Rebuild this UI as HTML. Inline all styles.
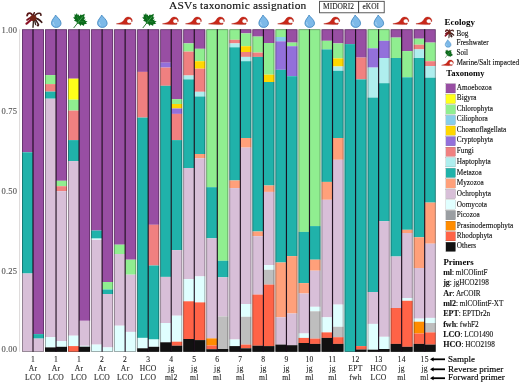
<!DOCTYPE html>
<html><head><meta charset="utf-8"><style>
html,body{margin:0;padding:0;background:#fff;}
body{width:520px;height:383px;overflow:hidden;}
svg{display:block;will-change:transform;}
text{font-family:"Liberation Serif",serif;}
</style></head><body>
<svg width="520" height="383" viewBox="0 0 520 383">
<rect width="520" height="383" fill="#fff"/>
<text x="169" y="9" font-size="11.4px" letter-spacing="0.2" fill="#111" stroke="#111" stroke-width="0.15">ASVs taxonomic assignation</text>
<rect x="319.6" y="1.3" width="64.6" height="11.5" fill="#fff" stroke="#333" stroke-width="0.8"/>
<line x1="358.6" y1="1.3" x2="358.6" y2="12.8" stroke="#222" stroke-width="0.9"/>
<text x="338.5" y="9.2" font-size="7.4px" fill="#222" stroke="#222" stroke-width="0.1" text-anchor="middle">MIDORI2</text>
<text x="370.8" y="9.2" font-size="7.4px" fill="#222" stroke="#222" stroke-width="0.1" text-anchor="middle">eKOI</text>
<rect x="22" y="29.3" width="11" height="123" fill="#984EA3"/>
<rect x="22" y="152.3" width="11" height="121.2" fill="#20B2AA"/>
<rect x="22" y="273.5" width="11" height="78.3" fill="#D8BFD8"/>
<rect x="33" y="29.3" width="11" height="304.8" fill="#984EA3"/>
<rect x="33" y="334.1" width="11" height="4.5" fill="#20B2AA"/>
<rect x="33" y="338.6" width="11" height="13.2" fill="#D8BFD8"/>
<rect x="45.04" y="29.3" width="11" height="45.8" fill="#984EA3"/>
<rect x="45.04" y="75.1" width="11" height="9" fill="#90EE90"/>
<rect x="45.04" y="84.1" width="11" height="7.5" fill="#F08080"/>
<rect x="45.04" y="91.6" width="11" height="7.1" fill="#20B2AA"/>
<rect x="45.04" y="98.7" width="11" height="238.5" fill="#D8BFD8"/>
<rect x="45.04" y="337.2" width="11" height="10.2" fill="#E0FFFF"/>
<rect x="45.04" y="347.4" width="11" height="4.4" fill="#111111"/>
<rect x="56.04" y="29.3" width="11" height="151.5" fill="#984EA3"/>
<rect x="56.04" y="180.8" width="11" height="5.4" fill="#90EE90"/>
<rect x="56.04" y="186.2" width="11" height="5" fill="#F08080"/>
<rect x="56.04" y="191.2" width="11" height="150" fill="#D8BFD8"/>
<rect x="56.04" y="341.2" width="11" height="5.6" fill="#E0FFFF"/>
<rect x="56.04" y="346.8" width="11" height="5" fill="#111111"/>
<rect x="68.08" y="29.3" width="11" height="49.4" fill="#984EA3"/>
<rect x="68.08" y="78.7" width="11" height="21" fill="#FFFF1A"/>
<rect x="68.08" y="99.7" width="11" height="10.9" fill="#90EE90"/>
<rect x="68.08" y="110.6" width="11" height="29.5" fill="#F08080"/>
<rect x="68.08" y="140.1" width="11" height="21" fill="#20B2AA"/>
<rect x="68.08" y="161.1" width="11" height="174.6" fill="#D8BFD8"/>
<rect x="68.08" y="335.7" width="11" height="10.4" fill="#E0FFFF"/>
<rect x="68.08" y="346.1" width="11" height="5.7" fill="#FF6347"/>
<rect x="79.08" y="29.3" width="11" height="291.5" fill="#984EA3"/>
<rect x="79.08" y="320.8" width="11" height="25" fill="#D8BFD8"/>
<rect x="79.08" y="345.8" width="11" height="0.9" fill="#E0FFFF"/>
<rect x="79.08" y="346.7" width="11" height="5.1" fill="#111111"/>
<rect x="91.12" y="29.3" width="11" height="201.3" fill="#984EA3"/>
<rect x="91.12" y="230.6" width="11" height="8" fill="#20B2AA"/>
<rect x="91.12" y="238.6" width="11" height="1.2" fill="#E0FFFF"/>
<rect x="91.12" y="239.8" width="11" height="104.8" fill="#D8BFD8"/>
<rect x="91.12" y="344.6" width="11" height="7.2" fill="#E0FFFF"/>
<rect x="102.12" y="29.3" width="11" height="252.7" fill="#984EA3"/>
<rect x="102.12" y="282" width="11" height="7.5" fill="#90EE90"/>
<rect x="102.12" y="289.5" width="11" height="4.5" fill="#20B2AA"/>
<rect x="102.12" y="294" width="11" height="53.4" fill="#D8BFD8"/>
<rect x="102.12" y="347.4" width="11" height="4.4" fill="#E0FFFF"/>
<rect x="114.16" y="29.3" width="11" height="215.4" fill="#984EA3"/>
<rect x="114.16" y="244.7" width="11" height="9.3" fill="#90EE90"/>
<rect x="114.16" y="254" width="11" height="71.7" fill="#D8BFD8"/>
<rect x="114.16" y="325.7" width="11" height="26.1" fill="#E0FFFF"/>
<rect x="125.16" y="29.3" width="11" height="230.4" fill="#984EA3"/>
<rect x="125.16" y="259.7" width="11" height="15" fill="#90EE90"/>
<rect x="125.16" y="274.7" width="11" height="57.2" fill="#D8BFD8"/>
<rect x="125.16" y="331.9" width="11" height="19.9" fill="#E0FFFF"/>
<rect x="137.2" y="29.3" width="11" height="42.6" fill="#984EA3"/>
<rect x="137.2" y="71.9" width="11" height="45.7" fill="#F08080"/>
<rect x="137.2" y="117.6" width="11" height="220.3" fill="#20B2AA"/>
<rect x="137.2" y="337.9" width="11" height="10.4" fill="#E0FFFF"/>
<rect x="137.2" y="348.3" width="11" height="3.5" fill="#111111"/>
<rect x="148.2" y="29.3" width="11" height="195.5" fill="#984EA3"/>
<rect x="148.2" y="224.8" width="11" height="40.7" fill="#F08080"/>
<rect x="148.2" y="265.5" width="11" height="74" fill="#20B2AA"/>
<rect x="148.2" y="339.5" width="11" height="7.3" fill="#E0FFFF"/>
<rect x="148.2" y="346.8" width="11" height="5" fill="#111111"/>
<rect x="160.24" y="29.3" width="11" height="33.4" fill="#984EA3"/>
<rect x="160.24" y="62.7" width="11" height="4.9" fill="#9370DB"/>
<rect x="160.24" y="67.6" width="11" height="18.2" fill="#F08080"/>
<rect x="160.24" y="85.8" width="11" height="191.1" fill="#20B2AA"/>
<rect x="160.24" y="276.9" width="11" height="46.1" fill="#D8BFD8"/>
<rect x="160.24" y="323" width="11" height="19.3" fill="#E0FFFF"/>
<rect x="160.24" y="342.3" width="11" height="9.5" fill="#111111"/>
<rect x="171.24" y="29.3" width="11" height="69.8" fill="#984EA3"/>
<rect x="171.24" y="99.1" width="11" height="4.9" fill="#90EE90"/>
<rect x="171.24" y="104" width="11" height="4.5" fill="#FFD700"/>
<rect x="171.24" y="108.5" width="11" height="5.4" fill="#9370DB"/>
<rect x="171.24" y="113.9" width="11" height="26.2" fill="#F08080"/>
<rect x="171.24" y="140.1" width="11" height="110" fill="#20B2AA"/>
<rect x="171.24" y="250.1" width="11" height="65.6" fill="#D8BFD8"/>
<rect x="171.24" y="315.7" width="11" height="26" fill="#E0FFFF"/>
<rect x="171.24" y="341.7" width="11" height="4" fill="#FF6347"/>
<rect x="171.24" y="345.7" width="11" height="6.1" fill="#111111"/>
<rect x="183.28" y="29.3" width="11" height="14.1" fill="#984EA3"/>
<rect x="183.28" y="43.4" width="11" height="8.2" fill="#90EE90"/>
<rect x="183.28" y="51.6" width="11" height="23.9" fill="#F08080"/>
<rect x="183.28" y="75.5" width="11" height="3.9" fill="#AFEEEE"/>
<rect x="183.28" y="79.4" width="11" height="88.6" fill="#20B2AA"/>
<rect x="183.28" y="168" width="11" height="111.1" fill="#D8BFD8"/>
<rect x="183.28" y="279.1" width="11" height="22.2" fill="#E0FFFF"/>
<rect x="183.28" y="301.3" width="11" height="37.7" fill="#FF6347"/>
<rect x="183.28" y="339" width="11" height="12.8" fill="#111111"/>
<rect x="194.28" y="29.3" width="11" height="19.5" fill="#984EA3"/>
<rect x="194.28" y="48.8" width="11" height="12.4" fill="#90EE90"/>
<rect x="194.28" y="61.2" width="11" height="7.5" fill="#FFD700"/>
<rect x="194.28" y="68.7" width="11" height="23.1" fill="#F08080"/>
<rect x="194.28" y="91.8" width="11" height="4.7" fill="#AFEEEE"/>
<rect x="194.28" y="96.5" width="11" height="57.5" fill="#20B2AA"/>
<rect x="194.28" y="154" width="11" height="4.3" fill="#FFA07A"/>
<rect x="194.28" y="158.3" width="11" height="118.1" fill="#D8BFD8"/>
<rect x="194.28" y="276.4" width="11" height="26" fill="#E0FFFF"/>
<rect x="194.28" y="302.4" width="11" height="37.7" fill="#FF6347"/>
<rect x="194.28" y="340.1" width="11" height="11.7" fill="#111111"/>
<rect x="206.32" y="29.3" width="11" height="157.9" fill="#90EE90"/>
<rect x="206.32" y="187.2" width="11" height="51.1" fill="#20B2AA"/>
<rect x="206.32" y="238.3" width="11" height="100.1" fill="#D8BFD8"/>
<rect x="206.32" y="338.4" width="11" height="7.1" fill="#FF8C00"/>
<rect x="206.32" y="345.5" width="11" height="3.7" fill="#FF6347"/>
<rect x="206.32" y="349.2" width="11" height="2.6" fill="#111111"/>
<rect x="217.32" y="29.3" width="11" height="231.5" fill="#90EE90"/>
<rect x="217.32" y="260.8" width="11" height="16.5" fill="#20B2AA"/>
<rect x="217.32" y="277.3" width="11" height="39.1" fill="#D8BFD8"/>
<rect x="217.32" y="316.4" width="11" height="32.6" fill="#BEBEBE"/>
<rect x="217.32" y="349" width="11" height="2.8" fill="#111111"/>
<rect x="229.36" y="29.3" width="11" height="10.5" fill="#90EE90"/>
<rect x="229.36" y="39.8" width="11" height="3.6" fill="#F08080"/>
<rect x="229.36" y="43.4" width="11" height="3.9" fill="#AFEEEE"/>
<rect x="229.36" y="47.3" width="11" height="133.2" fill="#20B2AA"/>
<rect x="229.36" y="180.5" width="11" height="7.6" fill="#FFA07A"/>
<rect x="229.36" y="188.1" width="11" height="151.4" fill="#D8BFD8"/>
<rect x="229.36" y="339.5" width="11" height="6.6" fill="#E0FFFF"/>
<rect x="229.36" y="346.1" width="11" height="5.7" fill="#111111"/>
<rect x="240.36" y="29.3" width="11" height="4.1" fill="#984EA3"/>
<rect x="240.36" y="33.4" width="11" height="12.8" fill="#90EE90"/>
<rect x="240.36" y="46.2" width="11" height="5.8" fill="#FFD700"/>
<rect x="240.36" y="52" width="11" height="4.9" fill="#F08080"/>
<rect x="240.36" y="56.9" width="11" height="4.3" fill="#AFEEEE"/>
<rect x="240.36" y="61.2" width="11" height="76.8" fill="#20B2AA"/>
<rect x="240.36" y="138" width="11" height="9.6" fill="#FFA07A"/>
<rect x="240.36" y="147.6" width="11" height="156.4" fill="#D8BFD8"/>
<rect x="240.36" y="304" width="11" height="12.8" fill="#E0FFFF"/>
<rect x="240.36" y="316.8" width="11" height="27.8" fill="#BEBEBE"/>
<rect x="240.36" y="344.6" width="11" height="3.7" fill="#FF6347"/>
<rect x="240.36" y="348.3" width="11" height="3.5" fill="#111111"/>
<rect x="252.4" y="29.3" width="11" height="7.3" fill="#984EA3"/>
<rect x="252.4" y="36.6" width="11" height="16" fill="#90EE90"/>
<rect x="252.4" y="52.6" width="11" height="4.3" fill="#F08080"/>
<rect x="252.4" y="56.9" width="11" height="174.6" fill="#20B2AA"/>
<rect x="252.4" y="231.5" width="11" height="4.7" fill="#FFA07A"/>
<rect x="252.4" y="236.2" width="11" height="58.4" fill="#D8BFD8"/>
<rect x="252.4" y="294.6" width="11" height="51.1" fill="#FF6347"/>
<rect x="252.4" y="345.7" width="11" height="6.1" fill="#111111"/>
<rect x="263.4" y="29.3" width="11" height="13.7" fill="#984EA3"/>
<rect x="263.4" y="43" width="11" height="31.7" fill="#90EE90"/>
<rect x="263.4" y="74.7" width="11" height="7.3" fill="#FFD700"/>
<rect x="263.4" y="82" width="11" height="103.5" fill="#20B2AA"/>
<rect x="263.4" y="185.5" width="11" height="6.4" fill="#FFA07A"/>
<rect x="263.4" y="191.9" width="11" height="73.2" fill="#D8BFD8"/>
<rect x="263.4" y="265.1" width="11" height="4.7" fill="#E0FFFF"/>
<rect x="263.4" y="269.8" width="11" height="14.8" fill="#BEBEBE"/>
<rect x="263.4" y="284.6" width="11" height="61.5" fill="#FF6347"/>
<rect x="263.4" y="346.1" width="11" height="5.7" fill="#111111"/>
<rect x="275.44" y="29.3" width="11" height="7.7" fill="#90EE90"/>
<rect x="275.44" y="37" width="11" height="4.3" fill="#87CEEB"/>
<rect x="275.44" y="41.3" width="11" height="28.5" fill="#9370DB"/>
<rect x="275.44" y="69.8" width="11" height="192.7" fill="#20B2AA"/>
<rect x="275.44" y="262.5" width="11" height="54.8" fill="#FFA07A"/>
<rect x="275.44" y="317.3" width="11" height="27.3" fill="#D8BFD8"/>
<rect x="275.44" y="344.6" width="11" height="7.2" fill="#111111"/>
<rect x="286.44" y="29.3" width="11" height="13.3" fill="#984EA3"/>
<rect x="286.44" y="42.6" width="11" height="3.6" fill="#90EE90"/>
<rect x="286.44" y="46.2" width="11" height="30" fill="#9370DB"/>
<rect x="286.44" y="76.2" width="11" height="179.9" fill="#20B2AA"/>
<rect x="286.44" y="256.1" width="11" height="57.4" fill="#FFA07A"/>
<rect x="286.44" y="313.5" width="11" height="31.7" fill="#D8BFD8"/>
<rect x="286.44" y="345.2" width="11" height="6.6" fill="#111111"/>
<rect x="298.48" y="29.3" width="11" height="202.6" fill="#90EE90"/>
<rect x="298.48" y="231.9" width="11" height="51.2" fill="#20B2AA"/>
<rect x="298.48" y="283.1" width="11" height="10.4" fill="#FFA07A"/>
<rect x="298.48" y="293.5" width="11" height="40" fill="#D8BFD8"/>
<rect x="298.48" y="333.5" width="11" height="4.4" fill="#E0FFFF"/>
<rect x="298.48" y="337.9" width="11" height="5.1" fill="#FF6347"/>
<rect x="298.48" y="343" width="11" height="8.8" fill="#111111"/>
<rect x="309.48" y="29.3" width="11" height="196.8" fill="#90EE90"/>
<rect x="309.48" y="226.1" width="11" height="33.6" fill="#20B2AA"/>
<rect x="309.48" y="259.7" width="11" height="11" fill="#FFA07A"/>
<rect x="309.48" y="270.7" width="11" height="36.1" fill="#D8BFD8"/>
<rect x="309.48" y="306.8" width="11" height="4.5" fill="#E0FFFF"/>
<rect x="309.48" y="311.3" width="11" height="27.3" fill="#BEBEBE"/>
<rect x="309.48" y="338.6" width="11" height="5.3" fill="#FF6347"/>
<rect x="309.48" y="343.9" width="11" height="7.9" fill="#111111"/>
<rect x="321.52" y="29.3" width="11" height="11.5" fill="#984EA3"/>
<rect x="321.52" y="40.8" width="11" height="8.6" fill="#90EE90"/>
<rect x="321.52" y="49.4" width="11" height="132.5" fill="#20B2AA"/>
<rect x="321.52" y="181.9" width="11" height="17.9" fill="#FFA07A"/>
<rect x="321.52" y="199.8" width="11" height="117.5" fill="#D8BFD8"/>
<rect x="321.52" y="317.3" width="11" height="15.1" fill="#E0FFFF"/>
<rect x="321.52" y="332.4" width="11" height="5.5" fill="#FF6347"/>
<rect x="321.52" y="337.9" width="11" height="13.9" fill="#111111"/>
<rect x="332.52" y="29.3" width="11" height="14.1" fill="#984EA3"/>
<rect x="332.52" y="43.4" width="11" height="15" fill="#90EE90"/>
<rect x="332.52" y="58.4" width="11" height="8.1" fill="#FFD700"/>
<rect x="332.52" y="66.5" width="11" height="4.3" fill="#AFEEEE"/>
<rect x="332.52" y="70.8" width="11" height="67.2" fill="#20B2AA"/>
<rect x="332.52" y="138" width="11" height="21.8" fill="#FFA07A"/>
<rect x="332.52" y="159.8" width="11" height="144.8" fill="#D8BFD8"/>
<rect x="332.52" y="304.6" width="11" height="22.2" fill="#E0FFFF"/>
<rect x="332.52" y="326.8" width="11" height="10.4" fill="#BEBEBE"/>
<rect x="332.52" y="337.2" width="11" height="6.7" fill="#FF6347"/>
<rect x="332.52" y="343.9" width="11" height="7.9" fill="#111111"/>
<rect x="344.56" y="29.3" width="11" height="14.8" fill="#984EA3"/>
<rect x="344.56" y="44.1" width="11" height="307.7" fill="#20B2AA"/>
<rect x="355.56" y="29.3" width="11" height="28.3" fill="#984EA3"/>
<rect x="355.56" y="57.6" width="11" height="21.8" fill="#F08080"/>
<rect x="355.56" y="79.4" width="11" height="266.7" fill="#20B2AA"/>
<rect x="355.56" y="346.1" width="11" height="3.4" fill="#FF6347"/>
<rect x="355.56" y="349.5" width="11" height="2.3" fill="#111111"/>
<rect x="367.6" y="29.3" width="11" height="19" fill="#90EE90"/>
<rect x="367.6" y="48.3" width="11" height="19.3" fill="#9370DB"/>
<rect x="367.6" y="67.6" width="11" height="30" fill="#AFEEEE"/>
<rect x="367.6" y="97.6" width="11" height="194.4" fill="#20B2AA"/>
<rect x="367.6" y="292" width="11" height="31.9" fill="#D8BFD8"/>
<rect x="367.6" y="323.9" width="11" height="25.8" fill="#E0FFFF"/>
<rect x="367.6" y="349.7" width="11" height="2.1" fill="#111111"/>
<rect x="378.6" y="29.3" width="11" height="11.5" fill="#90EE90"/>
<rect x="378.6" y="40.8" width="11" height="17.2" fill="#9370DB"/>
<rect x="378.6" y="58" width="11" height="25.2" fill="#AFEEEE"/>
<rect x="378.6" y="83.2" width="11" height="138" fill="#20B2AA"/>
<rect x="378.6" y="221.2" width="11" height="115.6" fill="#D8BFD8"/>
<rect x="378.6" y="336.8" width="11" height="12.2" fill="#E0FFFF"/>
<rect x="378.6" y="349" width="11" height="2.8" fill="#111111"/>
<rect x="390.64" y="29.3" width="11" height="8.3" fill="#984EA3"/>
<rect x="390.64" y="37.6" width="11" height="20.4" fill="#90EE90"/>
<rect x="390.64" y="58" width="11" height="198.5" fill="#20B2AA"/>
<rect x="390.64" y="256.5" width="11" height="51.5" fill="#D8BFD8"/>
<rect x="390.64" y="308" width="11" height="35.9" fill="#FF6347"/>
<rect x="390.64" y="343.9" width="11" height="7.9" fill="#111111"/>
<rect x="401.64" y="29.3" width="11" height="21.8" fill="#984EA3"/>
<rect x="401.64" y="51.1" width="11" height="26.2" fill="#90EE90"/>
<rect x="401.64" y="77.3" width="11" height="152.5" fill="#20B2AA"/>
<rect x="401.64" y="229.8" width="11" height="3.2" fill="#FFA07A"/>
<rect x="401.64" y="233" width="11" height="65" fill="#D8BFD8"/>
<rect x="401.64" y="298" width="11" height="2.8" fill="#E0FFFF"/>
<rect x="401.64" y="300.8" width="11" height="46" fill="#FF6347"/>
<rect x="401.64" y="346.8" width="11" height="5" fill="#111111"/>
<rect x="413.68" y="29.3" width="11" height="9.4" fill="#984EA3"/>
<rect x="413.68" y="38.7" width="11" height="6" fill="#90EE90"/>
<rect x="413.68" y="44.7" width="11" height="4.7" fill="#F08080"/>
<rect x="413.68" y="49.4" width="11" height="8.6" fill="#AFEEEE"/>
<rect x="413.68" y="58" width="11" height="179.3" fill="#20B2AA"/>
<rect x="413.68" y="237.3" width="11" height="30.7" fill="#FFA07A"/>
<rect x="413.68" y="268" width="11" height="50.6" fill="#D8BFD8"/>
<rect x="413.68" y="318.6" width="11" height="3.1" fill="#E0FFFF"/>
<rect x="413.68" y="321.7" width="11" height="11.8" fill="#FF8C00"/>
<rect x="413.68" y="333.5" width="11" height="10.4" fill="#FF6347"/>
<rect x="413.68" y="343.9" width="11" height="7.9" fill="#111111"/>
<rect x="424.68" y="29.3" width="11" height="13.3" fill="#984EA3"/>
<rect x="424.68" y="42.6" width="11" height="18.6" fill="#90EE90"/>
<rect x="424.68" y="61.2" width="11" height="4.9" fill="#F08080"/>
<rect x="424.68" y="66.1" width="11" height="11.6" fill="#AFEEEE"/>
<rect x="424.68" y="77.7" width="11" height="124.9" fill="#20B2AA"/>
<rect x="424.68" y="202.6" width="11" height="41.1" fill="#FFA07A"/>
<rect x="424.68" y="243.7" width="11" height="74.2" fill="#D8BFD8"/>
<rect x="424.68" y="317.9" width="11" height="5.1" fill="#E0FFFF"/>
<rect x="424.68" y="323" width="11" height="9.4" fill="#BEBEBE"/>
<rect x="424.68" y="332.4" width="11" height="12.2" fill="#FF6347"/>
<rect x="424.68" y="344.6" width="11" height="7.2" fill="#111111"/>
<rect x="22.4" y="29.7" width="21.2" height="321.7" fill="none" stroke="#000" stroke-opacity="0.4" stroke-width="0.8"/>
<line x1="33" y1="29.3" x2="33" y2="351.8" stroke="#140414" stroke-opacity="0.92" stroke-width="1.15"/>
<rect x="45.44" y="29.7" width="21.2" height="321.7" fill="none" stroke="#000" stroke-opacity="0.4" stroke-width="0.8"/>
<line x1="56.04" y1="29.3" x2="56.04" y2="351.8" stroke="#140414" stroke-opacity="0.92" stroke-width="1.15"/>
<rect x="68.48" y="29.7" width="21.2" height="321.7" fill="none" stroke="#000" stroke-opacity="0.4" stroke-width="0.8"/>
<line x1="79.08" y1="29.3" x2="79.08" y2="351.8" stroke="#140414" stroke-opacity="0.92" stroke-width="1.15"/>
<rect x="91.52" y="29.7" width="21.2" height="321.7" fill="none" stroke="#000" stroke-opacity="0.4" stroke-width="0.8"/>
<line x1="102.12" y1="29.3" x2="102.12" y2="351.8" stroke="#140414" stroke-opacity="0.92" stroke-width="1.15"/>
<rect x="114.56" y="29.7" width="21.2" height="321.7" fill="none" stroke="#000" stroke-opacity="0.4" stroke-width="0.8"/>
<line x1="125.16" y1="29.3" x2="125.16" y2="351.8" stroke="#140414" stroke-opacity="0.92" stroke-width="1.15"/>
<rect x="137.6" y="29.7" width="21.2" height="321.7" fill="none" stroke="#000" stroke-opacity="0.4" stroke-width="0.8"/>
<line x1="148.2" y1="29.3" x2="148.2" y2="351.8" stroke="#140414" stroke-opacity="0.92" stroke-width="1.15"/>
<rect x="160.64" y="29.7" width="21.2" height="321.7" fill="none" stroke="#000" stroke-opacity="0.4" stroke-width="0.8"/>
<line x1="171.24" y1="29.3" x2="171.24" y2="351.8" stroke="#140414" stroke-opacity="0.92" stroke-width="1.15"/>
<rect x="183.68" y="29.7" width="21.2" height="321.7" fill="none" stroke="#000" stroke-opacity="0.4" stroke-width="0.8"/>
<line x1="194.28" y1="29.3" x2="194.28" y2="351.8" stroke="#140414" stroke-opacity="0.92" stroke-width="1.15"/>
<rect x="206.72" y="29.7" width="21.2" height="321.7" fill="none" stroke="#000" stroke-opacity="0.4" stroke-width="0.8"/>
<line x1="217.32" y1="29.3" x2="217.32" y2="351.8" stroke="#140414" stroke-opacity="0.92" stroke-width="1.15"/>
<rect x="229.76" y="29.7" width="21.2" height="321.7" fill="none" stroke="#000" stroke-opacity="0.4" stroke-width="0.8"/>
<line x1="240.36" y1="29.3" x2="240.36" y2="351.8" stroke="#140414" stroke-opacity="0.92" stroke-width="1.15"/>
<rect x="252.8" y="29.7" width="21.2" height="321.7" fill="none" stroke="#000" stroke-opacity="0.4" stroke-width="0.8"/>
<line x1="263.4" y1="29.3" x2="263.4" y2="351.8" stroke="#140414" stroke-opacity="0.92" stroke-width="1.15"/>
<rect x="275.84" y="29.7" width="21.2" height="321.7" fill="none" stroke="#000" stroke-opacity="0.4" stroke-width="0.8"/>
<line x1="286.44" y1="29.3" x2="286.44" y2="351.8" stroke="#140414" stroke-opacity="0.92" stroke-width="1.15"/>
<rect x="298.88" y="29.7" width="21.2" height="321.7" fill="none" stroke="#000" stroke-opacity="0.4" stroke-width="0.8"/>
<line x1="309.48" y1="29.3" x2="309.48" y2="351.8" stroke="#140414" stroke-opacity="0.92" stroke-width="1.15"/>
<rect x="321.92" y="29.7" width="21.2" height="321.7" fill="none" stroke="#000" stroke-opacity="0.4" stroke-width="0.8"/>
<line x1="332.52" y1="29.3" x2="332.52" y2="351.8" stroke="#140414" stroke-opacity="0.92" stroke-width="1.15"/>
<rect x="344.96" y="29.7" width="21.2" height="321.7" fill="none" stroke="#000" stroke-opacity="0.4" stroke-width="0.8"/>
<line x1="355.56" y1="29.3" x2="355.56" y2="351.8" stroke="#140414" stroke-opacity="0.92" stroke-width="1.15"/>
<rect x="368" y="29.7" width="21.2" height="321.7" fill="none" stroke="#000" stroke-opacity="0.4" stroke-width="0.8"/>
<line x1="378.6" y1="29.3" x2="378.6" y2="351.8" stroke="#140414" stroke-opacity="0.92" stroke-width="1.15"/>
<rect x="391.04" y="29.7" width="21.2" height="321.7" fill="none" stroke="#000" stroke-opacity="0.4" stroke-width="0.8"/>
<line x1="401.64" y1="29.3" x2="401.64" y2="351.8" stroke="#140414" stroke-opacity="0.92" stroke-width="1.15"/>
<rect x="414.08" y="29.7" width="21.2" height="321.7" fill="none" stroke="#000" stroke-opacity="0.4" stroke-width="0.8"/>
<line x1="424.68" y1="29.3" x2="424.68" y2="351.8" stroke="#140414" stroke-opacity="0.92" stroke-width="1.15"/>
<g transform="translate(33.5,17.9) scale(1)" fill="none" stroke-linecap="round"><path d="M0,0 C-0.8,-2.5 -2.2,-4.8 -4,-4.8 C-5.4,-4.8 -6.2,-3.6 -6.4,-2.2" stroke="#5A1616" stroke-width="1.8"/><path d="M0,0 C1.5,-3 3.8,-4.8 6,-4.6 C7.1,-4.4 7.6,-3.6 7.4,-2.6" stroke="#4A1E1A" stroke-width="1.6"/><path d="M0,0 C3,0.2 6,1.6 8.2,4.4" stroke="#3E1A18" stroke-width="1.7"/><path d="M0,0 C2.4,2 3.9,4 5,6.6 C5.2,7.6 4.4,8 3.9,7.5" stroke="#3E1A18" stroke-width="1.5"/><path d="M0,0 C0,3 -0.2,6 -0.5,9.4" stroke="#3A2822" stroke-width="1.4"/><path d="M0,0 C-2.5,1.5 -4.8,4 -7,5.8" stroke="#8A1024" stroke-width="2.2"/><path d="M0,0 C-2,-0.4 -4.3,0.2 -6.4,2" stroke="#761420" stroke-width="1.9"/><path d="M0,0 C-0.4,-2 -0.2,-3.8 0.8,-5.2" stroke="#4E1A18" stroke-width="1.5"/><path d="M0,0 C1.2,2.2 1.8,4.5 2.1,6.6" stroke="#34221E" stroke-width="1.3"/><ellipse cx="-0.3" cy="0.2" rx="3.3" ry="2.8" fill="#742416" stroke="none"/></g>
<g transform="translate(56.24,21.1) scale(0.93)"><path d="M-0.7,-6.5 C0.5,-4.5 5.2,-1.2 5.2,2.2 C5.2,5 2.9,6.8 0,6.8 C-2.9,6.8 -5.1,5 -5.1,2.2 C-5.1,-1.4 -1.4,-4.2 -0.7,-6.5 Z" fill="#7DB9E8" stroke="#3F86BF" stroke-width="0.9"/><path d="M-3.2,1 C-3.4,2.6 -2.6,4 -1.5,4.6" fill="none" stroke="#B8DCF5" stroke-width="0.8"/></g>
<g transform="translate(80.08,19.8) scale(1) rotate(38)"><path d="M0,3 L0,10.4" stroke="#2A7A32" stroke-width="0.9" fill="none"/><ellipse cx="0" cy="0" rx="3.4" ry="3.2" fill="#0A6A1A"/><path d="M0,5 L1.5,3.8 L4.2,4.6 L3.9,2.9 L7,2.5 L6,1.3 L8,-1.4 L6.3,-1.2 L6.8,-3.4 L4.6,-2.2 L4.3,-3.6 L2.9,-1.9 L2.8,-5 L1.6,-4.4 L0,-7.6 L-1.6,-4.4 L-2.8,-5 L-2.9,-1.9 L-4.3,-3.6 L-4.6,-2.2 L-6.8,-3.4 L-6.3,-1.2 L-8,-1.4 L-6,1.3 L-7,2.5 L-3.9,2.9 L-4.2,4.6 L-1.5,3.8 Z" fill="#0A6A1A"/><path d="M0,4.5 L0.2,-4.5" stroke="#6CC878" stroke-width="0.55" fill="none"/><path d="M0,1.5 L4.5,-0.8 M0,1.5 L-4.5,-0.8" stroke="#3C9A48" stroke-width="0.4" fill="none"/></g>
<g transform="translate(102.32,21.1) scale(0.93)"><path d="M-0.7,-6.5 C0.5,-4.5 5.2,-1.2 5.2,2.2 C5.2,5 2.9,6.8 0,6.8 C-2.9,6.8 -5.1,5 -5.1,2.2 C-5.1,-1.4 -1.4,-4.2 -0.7,-6.5 Z" fill="#7DB9E8" stroke="#3F86BF" stroke-width="0.9"/><path d="M-3.2,1 C-3.4,2.6 -2.6,4 -1.5,4.6" fill="none" stroke="#B8DCF5" stroke-width="0.8"/></g>
<g transform="translate(125.26,21) scale(1)"><path d="M-8.8,2.7 C-6,2.4 -3.5,1.6 -1.8,-0.2 C-0.6,-2 0.2,-3.6 2.2,-3.9 C4,-4.2 5.8,-3.6 6.7,-1.8 C7.3,-0.6 7.1,0.6 6.4,1.0 C6.6,-0.2 6.0,-1.4 5.0,-1.8 C3.6,-2.3 1.8,-1.4 1.7,0.1 C1.6,1.5 2.6,2.2 3.8,2.2 L5.9,1.9 L5.2,3.4 C1,3.8 -4,3.6 -8.8,3.1 Z" fill="#C8281A" stroke="#A41A12" stroke-width="0.3"/></g>
<g transform="translate(149.2,19.8) scale(1) rotate(38)"><path d="M0,3 L0,10.4" stroke="#2A7A32" stroke-width="0.9" fill="none"/><ellipse cx="0" cy="0" rx="3.4" ry="3.2" fill="#0A6A1A"/><path d="M0,5 L1.5,3.8 L4.2,4.6 L3.9,2.9 L7,2.5 L6,1.3 L8,-1.4 L6.3,-1.2 L6.8,-3.4 L4.6,-2.2 L4.3,-3.6 L2.9,-1.9 L2.8,-5 L1.6,-4.4 L0,-7.6 L-1.6,-4.4 L-2.8,-5 L-2.9,-1.9 L-4.3,-3.6 L-4.6,-2.2 L-6.8,-3.4 L-6.3,-1.2 L-8,-1.4 L-6,1.3 L-7,2.5 L-3.9,2.9 L-4.2,4.6 L-1.5,3.8 Z" fill="#0A6A1A"/><path d="M0,4.5 L0.2,-4.5" stroke="#6CC878" stroke-width="0.55" fill="none"/><path d="M0,1.5 L4.5,-0.8 M0,1.5 L-4.5,-0.8" stroke="#3C9A48" stroke-width="0.4" fill="none"/></g>
<g transform="translate(171.34,21) scale(1)"><path d="M-8.8,2.7 C-6,2.4 -3.5,1.6 -1.8,-0.2 C-0.6,-2 0.2,-3.6 2.2,-3.9 C4,-4.2 5.8,-3.6 6.7,-1.8 C7.3,-0.6 7.1,0.6 6.4,1.0 C6.6,-0.2 6.0,-1.4 5.0,-1.8 C3.6,-2.3 1.8,-1.4 1.7,0.1 C1.6,1.5 2.6,2.2 3.8,2.2 L5.9,1.9 L5.2,3.4 C1,3.8 -4,3.6 -8.8,3.1 Z" fill="#C8281A" stroke="#A41A12" stroke-width="0.3"/></g>
<g transform="translate(194.38,21) scale(1)"><path d="M-8.8,2.7 C-6,2.4 -3.5,1.6 -1.8,-0.2 C-0.6,-2 0.2,-3.6 2.2,-3.9 C4,-4.2 5.8,-3.6 6.7,-1.8 C7.3,-0.6 7.1,0.6 6.4,1.0 C6.6,-0.2 6.0,-1.4 5.0,-1.8 C3.6,-2.3 1.8,-1.4 1.7,0.1 C1.6,1.5 2.6,2.2 3.8,2.2 L5.9,1.9 L5.2,3.4 C1,3.8 -4,3.6 -8.8,3.1 Z" fill="#C8281A" stroke="#A41A12" stroke-width="0.3"/></g>
<g transform="translate(217.42,21) scale(1)"><path d="M-8.8,2.7 C-6,2.4 -3.5,1.6 -1.8,-0.2 C-0.6,-2 0.2,-3.6 2.2,-3.9 C4,-4.2 5.8,-3.6 6.7,-1.8 C7.3,-0.6 7.1,0.6 6.4,1.0 C6.6,-0.2 6.0,-1.4 5.0,-1.8 C3.6,-2.3 1.8,-1.4 1.7,0.1 C1.6,1.5 2.6,2.2 3.8,2.2 L5.9,1.9 L5.2,3.4 C1,3.8 -4,3.6 -8.8,3.1 Z" fill="#C8281A" stroke="#A41A12" stroke-width="0.3"/></g>
<g transform="translate(240.46,21) scale(1)"><path d="M-8.8,2.7 C-6,2.4 -3.5,1.6 -1.8,-0.2 C-0.6,-2 0.2,-3.6 2.2,-3.9 C4,-4.2 5.8,-3.6 6.7,-1.8 C7.3,-0.6 7.1,0.6 6.4,1.0 C6.6,-0.2 6.0,-1.4 5.0,-1.8 C3.6,-2.3 1.8,-1.4 1.7,0.1 C1.6,1.5 2.6,2.2 3.8,2.2 L5.9,1.9 L5.2,3.4 C1,3.8 -4,3.6 -8.8,3.1 Z" fill="#C8281A" stroke="#A41A12" stroke-width="0.3"/></g>
<g transform="translate(263.6,21.1) scale(0.93)"><path d="M-0.7,-6.5 C0.5,-4.5 5.2,-1.2 5.2,2.2 C5.2,5 2.9,6.8 0,6.8 C-2.9,6.8 -5.1,5 -5.1,2.2 C-5.1,-1.4 -1.4,-4.2 -0.7,-6.5 Z" fill="#7DB9E8" stroke="#3F86BF" stroke-width="0.9"/><path d="M-3.2,1 C-3.4,2.6 -2.6,4 -1.5,4.6" fill="none" stroke="#B8DCF5" stroke-width="0.8"/></g>
<g transform="translate(286.54,21) scale(1)"><path d="M-8.8,2.7 C-6,2.4 -3.5,1.6 -1.8,-0.2 C-0.6,-2 0.2,-3.6 2.2,-3.9 C4,-4.2 5.8,-3.6 6.7,-1.8 C7.3,-0.6 7.1,0.6 6.4,1.0 C6.6,-0.2 6.0,-1.4 5.0,-1.8 C3.6,-2.3 1.8,-1.4 1.7,0.1 C1.6,1.5 2.6,2.2 3.8,2.2 L5.9,1.9 L5.2,3.4 C1,3.8 -4,3.6 -8.8,3.1 Z" fill="#C8281A" stroke="#A41A12" stroke-width="0.3"/></g>
<g transform="translate(309.68,21.1) scale(0.93)"><path d="M-0.7,-6.5 C0.5,-4.5 5.2,-1.2 5.2,2.2 C5.2,5 2.9,6.8 0,6.8 C-2.9,6.8 -5.1,5 -5.1,2.2 C-5.1,-1.4 -1.4,-4.2 -0.7,-6.5 Z" fill="#7DB9E8" stroke="#3F86BF" stroke-width="0.9"/><path d="M-3.2,1 C-3.4,2.6 -2.6,4 -1.5,4.6" fill="none" stroke="#B8DCF5" stroke-width="0.8"/></g>
<g transform="translate(332.62,21) scale(1)"><path d="M-8.8,2.7 C-6,2.4 -3.5,1.6 -1.8,-0.2 C-0.6,-2 0.2,-3.6 2.2,-3.9 C4,-4.2 5.8,-3.6 6.7,-1.8 C7.3,-0.6 7.1,0.6 6.4,1.0 C6.6,-0.2 6.0,-1.4 5.0,-1.8 C3.6,-2.3 1.8,-1.4 1.7,0.1 C1.6,1.5 2.6,2.2 3.8,2.2 L5.9,1.9 L5.2,3.4 C1,3.8 -4,3.6 -8.8,3.1 Z" fill="#C8281A" stroke="#A41A12" stroke-width="0.3"/></g>
<g transform="translate(355.76,21.1) scale(0.93)"><path d="M-0.7,-6.5 C0.5,-4.5 5.2,-1.2 5.2,2.2 C5.2,5 2.9,6.8 0,6.8 C-2.9,6.8 -5.1,5 -5.1,2.2 C-5.1,-1.4 -1.4,-4.2 -0.7,-6.5 Z" fill="#7DB9E8" stroke="#3F86BF" stroke-width="0.9"/><path d="M-3.2,1 C-3.4,2.6 -2.6,4 -1.5,4.6" fill="none" stroke="#B8DCF5" stroke-width="0.8"/></g>
<g transform="translate(378.8,21.1) scale(0.93)"><path d="M-0.7,-6.5 C0.5,-4.5 5.2,-1.2 5.2,2.2 C5.2,5 2.9,6.8 0,6.8 C-2.9,6.8 -5.1,5 -5.1,2.2 C-5.1,-1.4 -1.4,-4.2 -0.7,-6.5 Z" fill="#7DB9E8" stroke="#3F86BF" stroke-width="0.9"/><path d="M-3.2,1 C-3.4,2.6 -2.6,4 -1.5,4.6" fill="none" stroke="#B8DCF5" stroke-width="0.8"/></g>
<g transform="translate(401.74,21) scale(1)"><path d="M-8.8,2.7 C-6,2.4 -3.5,1.6 -1.8,-0.2 C-0.6,-2 0.2,-3.6 2.2,-3.9 C4,-4.2 5.8,-3.6 6.7,-1.8 C7.3,-0.6 7.1,0.6 6.4,1.0 C6.6,-0.2 6.0,-1.4 5.0,-1.8 C3.6,-2.3 1.8,-1.4 1.7,0.1 C1.6,1.5 2.6,2.2 3.8,2.2 L5.9,1.9 L5.2,3.4 C1,3.8 -4,3.6 -8.8,3.1 Z" fill="#C8281A" stroke="#A41A12" stroke-width="0.3"/></g>
<g transform="translate(424.78,21) scale(1)"><path d="M-8.8,2.7 C-6,2.4 -3.5,1.6 -1.8,-0.2 C-0.6,-2 0.2,-3.6 2.2,-3.9 C4,-4.2 5.8,-3.6 6.7,-1.8 C7.3,-0.6 7.1,0.6 6.4,1.0 C6.6,-0.2 6.0,-1.4 5.0,-1.8 C3.6,-2.3 1.8,-1.4 1.7,0.1 C1.6,1.5 2.6,2.2 3.8,2.2 L5.9,1.9 L5.2,3.4 C1,3.8 -4,3.6 -8.8,3.1 Z" fill="#C8281A" stroke="#A41A12" stroke-width="0.3"/></g>
<g font-size="8.5px" fill="#555" stroke="#555" stroke-width="0.12" text-anchor="end" letter-spacing="0.25">
<text x="17.3" y="32.9">1.00</text>
<text x="17.3" y="113.8">0.75</text>
<text x="17.3" y="194.1">0.50</text>
<text x="17.3" y="274.3">0.25</text>
<text x="17.3" y="351.9">0.00</text>
<line x1="19.6" y1="29.3" x2="19.6" y2="351.8" stroke="#d8d4d4" stroke-width="0.9"/>
</g>
<g font-size="7.6px" fill="#222" text-anchor="middle" letter-spacing="0.3" stroke="#222" stroke-width="0.1">
<text x="33" y="361.6">1</text>
<text x="33" y="371.1">Ar</text>
<text x="33" y="380">LCO</text>
<text x="56.04" y="361.6">1</text>
<text x="56.04" y="371.1">Ar</text>
<text x="56.04" y="380">LCO</text>
<text x="79.08" y="361.6">1</text>
<text x="79.08" y="371.1">Ar</text>
<text x="79.08" y="380">LCO</text>
<text x="102.12" y="361.6">2</text>
<text x="102.12" y="371.1">Ar</text>
<text x="102.12" y="380">LCO</text>
<text x="125.16" y="361.6">2</text>
<text x="125.16" y="371.1">Ar</text>
<text x="125.16" y="380">LCO</text>
<text x="148.2" y="361.6">3</text>
<text x="148.2" y="371.1">HCO</text>
<text x="148.2" y="380">LCO</text>
<text x="171.24" y="361.6">4</text>
<text x="171.24" y="371.1">jg</text>
<text x="171.24" y="380">ml2</text>
<text x="194.28" y="361.6">5</text>
<text x="194.28" y="371.1">jg</text>
<text x="194.28" y="380">ml</text>
<text x="217.32" y="361.6">6</text>
<text x="217.32" y="371.1">jg</text>
<text x="217.32" y="380">ml</text>
<text x="240.36" y="361.6">7</text>
<text x="240.36" y="371.1">jg</text>
<text x="240.36" y="380">ml</text>
<text x="263.4" y="361.6">8</text>
<text x="263.4" y="371.1">jg</text>
<text x="263.4" y="380">ml</text>
<text x="286.44" y="361.6">9</text>
<text x="286.44" y="371.1">jg</text>
<text x="286.44" y="380">ml</text>
<text x="309.48" y="361.6">10</text>
<text x="309.48" y="371.1">jg</text>
<text x="309.48" y="380">ml</text>
<text x="332.52" y="361.6">11</text>
<text x="332.52" y="371.1">jg</text>
<text x="332.52" y="380">ml</text>
<text x="355.56" y="361.6">12</text>
<text x="355.56" y="371.1">EPT</text>
<text x="355.56" y="380">fwh</text>
<text x="378.6" y="361.6">13</text>
<text x="378.6" y="371.1">HCO</text>
<text x="378.6" y="380">LCO</text>
<text x="401.64" y="361.6">14</text>
<text x="401.64" y="371.1">jg</text>
<text x="401.64" y="380">ml</text>
<text x="424.68" y="361.6">15</text>
<text x="424.68" y="371.1">jg</text>
<text x="424.68" y="380">ml</text>
</g>
<g font-size="9px" fill="#000" stroke="#000" stroke-width="0.15">
<text x="448" y="361.6">Sample</text>
<text x="448" y="371.6">Reverse primer</text>
<text x="448" y="379.8">Forward primer</text>
</g>
<path d="M445,359.3 L432.5,359.3" stroke="#000" stroke-width="1.8"/>
<path d="M430,359.3 L433.6,357.2 L433.6,361.4 Z" fill="#000"/>
<path d="M445,369.3 L432.5,369.3" stroke="#000" stroke-width="1.8"/>
<path d="M430,369.3 L433.6,367.2 L433.6,371.4 Z" fill="#000"/>
<path d="M445,378.2 L432.5,378.2" stroke="#000" stroke-width="1.8"/>
<path d="M430,378.2 L433.6,376.1 L433.6,380.3 Z" fill="#000"/>
<text x="444.4" y="24.5" font-size="9px" font-weight="bold" fill="#000">Ecology</text>
<g font-size="7.25px" fill="#111" stroke="#111" stroke-width="0.12">
<text x="456.4" y="35.5">Bog</text>
<text x="456.4" y="45.3">Freshwater</text>
<text x="456.4" y="55.1">Soil</text>
<text x="456.4" y="64.9">Marine/Salt impacted</text>
<g transform="translate(449.2,32.6) scale(0.55)" fill="none" stroke-linecap="round"><path d="M0,0 C-0.8,-2.5 -2.2,-4.8 -4,-4.8 C-5.4,-4.8 -6.2,-3.6 -6.4,-2.2" stroke="#5A1616" stroke-width="2.43"/><path d="M0,0 C1.5,-3 3.8,-4.8 6,-4.6 C7.1,-4.4 7.6,-3.6 7.4,-2.6" stroke="#4A1E1A" stroke-width="2.16"/><path d="M0,0 C3,0.2 6,1.6 8.2,4.4" stroke="#3E1A18" stroke-width="2.29"/><path d="M0,0 C2.4,2 3.9,4 5,6.6 C5.2,7.6 4.4,8 3.9,7.5" stroke="#3E1A18" stroke-width="2.03"/><path d="M0,0 C0,3 -0.2,6 -0.5,9.4" stroke="#3A2822" stroke-width="1.89"/><path d="M0,0 C-2.5,1.5 -4.8,4 -7,5.8" stroke="#8A1024" stroke-width="2.97"/><path d="M0,0 C-2,-0.4 -4.3,0.2 -6.4,2" stroke="#761420" stroke-width="2.56"/><path d="M0,0 C-0.4,-2 -0.2,-3.8 0.8,-5.2" stroke="#4E1A18" stroke-width="2.03"/><path d="M0,0 C1.2,2.2 1.8,4.5 2.1,6.6" stroke="#34221E" stroke-width="1.76"/><ellipse cx="-0.3" cy="0.2" rx="3.3" ry="2.8" fill="#742416" stroke="none"/></g>
<g transform="translate(448.1,43.4) scale(0.56)"><path d="M-0.7,-6.5 C0.5,-4.5 5.2,-1.2 5.2,2.2 C5.2,5 2.9,6.8 0,6.8 C-2.9,6.8 -5.1,5 -5.1,2.2 C-5.1,-1.4 -1.4,-4.2 -0.7,-6.5 Z" fill="#7DB9E8" stroke="#3F86BF" stroke-width="0.9"/><path d="M-3.2,1 C-3.4,2.6 -2.6,4 -1.5,4.6" fill="none" stroke="#B8DCF5" stroke-width="0.8"/></g>
<g transform="translate(448.8,53.3) scale(0.55) rotate(38)"><path d="M0,3 L0,10.4" stroke="#2A7A32" stroke-width="0.9" fill="none"/><ellipse cx="0" cy="0" rx="3.4" ry="3.2" fill="#0A6A1A"/><path d="M0,5 L1.5,3.8 L4.2,4.6 L3.9,2.9 L7,2.5 L6,1.3 L8,-1.4 L6.3,-1.2 L6.8,-3.4 L4.6,-2.2 L4.3,-3.6 L2.9,-1.9 L2.8,-5 L1.6,-4.4 L0,-7.6 L-1.6,-4.4 L-2.8,-5 L-2.9,-1.9 L-4.3,-3.6 L-4.6,-2.2 L-6.8,-3.4 L-6.3,-1.2 L-8,-1.4 L-6,1.3 L-7,2.5 L-3.9,2.9 L-4.2,4.6 L-1.5,3.8 Z" fill="#0A6A1A"/><path d="M0,4.5 L0.2,-4.5" stroke="#6CC878" stroke-width="0.55" fill="none"/><path d="M0,1.5 L4.5,-0.8 M0,1.5 L-4.5,-0.8" stroke="#3C9A48" stroke-width="0.4" fill="none"/></g>
<g transform="translate(448.2,63) scale(0.75)"><path d="M-8.8,2.7 C-6,2.4 -3.5,1.6 -1.8,-0.2 C-0.6,-2 0.2,-3.6 2.2,-3.9 C4,-4.2 5.8,-3.6 6.7,-1.8 C7.3,-0.6 7.1,0.6 6.4,1.0 C6.6,-0.2 6.0,-1.4 5.0,-1.8 C3.6,-2.3 1.8,-1.4 1.7,0.1 C1.6,1.5 2.6,2.2 3.8,2.2 L5.9,1.9 L5.2,3.4 C1,3.8 -4,3.6 -8.8,3.1 Z" fill="#C8281A" stroke="#A41A12" stroke-width="0.3"/></g>
</g>
<text x="446.2" y="76.4" font-size="8.6px" font-weight="bold" fill="#000">Taxonomy</text>
<g font-size="7.25px" fill="#111" stroke="#111" stroke-width="0.12">
<rect x="445.9" y="83.7" width="9.6" height="9.3" fill="#984EA3"/>
<text x="456.8" y="89.6">Amoebozoa</text>
<rect x="445.9" y="94.27" width="9.6" height="9.3" fill="#FFFF1A"/>
<text x="456.8" y="99.8">Bigyra</text>
<rect x="445.9" y="104.83" width="9.6" height="9.3" fill="#90EE90"/>
<text x="456.8" y="110.6">Chlorophyta</text>
<rect x="445.9" y="115.4" width="9.6" height="9.3" fill="#87CEEB"/>
<text x="456.8" y="120.8">Ciliophora</text>
<rect x="445.9" y="125.97" width="9.6" height="9.3" fill="#FFD700"/>
<text x="456.8" y="131.9">Choanoflagellata</text>
<rect x="445.9" y="136.53" width="9.6" height="9.3" fill="#9370DB"/>
<text x="456.8" y="142.3">Cryptophyta</text>
<rect x="445.9" y="147.1" width="9.6" height="9.3" fill="#F08080"/>
<text x="456.8" y="152.8">Fungi</text>
<rect x="445.9" y="157.67" width="9.6" height="9.3" fill="#AFEEEE"/>
<text x="456.8" y="164.2">Haptophyta</text>
<rect x="445.9" y="168.24" width="9.6" height="9.3" fill="#20B2AA"/>
<text x="456.8" y="174.9">Metazoa</text>
<rect x="445.9" y="178.8" width="9.6" height="9.3" fill="#FFA07A"/>
<text x="456.8" y="185.3">Myzozoa</text>
<rect x="445.9" y="189.37" width="9.6" height="9.3" fill="#D8BFD8"/>
<text x="456.8" y="196.2">Ochrophyta</text>
<rect x="445.9" y="199.94" width="9.6" height="9.3" fill="#E0FFFF"/>
<text x="456.8" y="207">Oomycota</text>
<rect x="445.9" y="210.5" width="9.6" height="9.3" fill="#9A9EA2"/>
<text x="456.8" y="217.3">Picozoa</text>
<rect x="445.9" y="221.07" width="9.6" height="9.3" fill="#FF8C00"/>
<text x="456.8" y="228">Prasinodermophyta</text>
<rect x="445.9" y="231.64" width="9.6" height="9.3" fill="#FF6347"/>
<text x="456.8" y="237.7">Rhodophyta</text>
<rect x="445.9" y="242.2" width="9.6" height="9.3" fill="#111111"/>
<text x="456.8" y="248.2">Others</text>
</g>
<text x="443.4" y="265.2" font-size="8.8px" font-weight="bold" fill="#000">Primers</text>
<g font-size="7.2px" fill="#111" stroke="#111" stroke-width="0.12">
<text x="443.2" y="274.8"><tspan font-weight="bold" font-size="8px">ml</tspan>: mlCOIintF</text>
<text x="443.2" y="285.16"><tspan font-weight="bold" font-size="8px">jg</tspan>: jgHCO2198</text>
<text x="443.2" y="295.52"><tspan font-weight="bold" font-size="8px">Ar</tspan>: ArCOIR</text>
<text x="443.2" y="305.88"><tspan font-weight="bold" font-size="8px">ml2</tspan>: mlCOIintF-XT</text>
<text x="443.2" y="316.24"><tspan font-weight="bold" font-size="8px">EPT</tspan>: EPTDr2n</text>
<text x="443.2" y="326.6"><tspan font-weight="bold" font-size="8px">fwh</tspan>: fwhF2</text>
<text x="443.2" y="336.96"><tspan font-weight="bold" font-size="8px">LCO</tspan>: LCO1490</text>
<text x="443.2" y="347.32"><tspan font-weight="bold" font-size="8px">HCO</tspan>: HCO2198</text>
</g>
</svg>
</body></html>
